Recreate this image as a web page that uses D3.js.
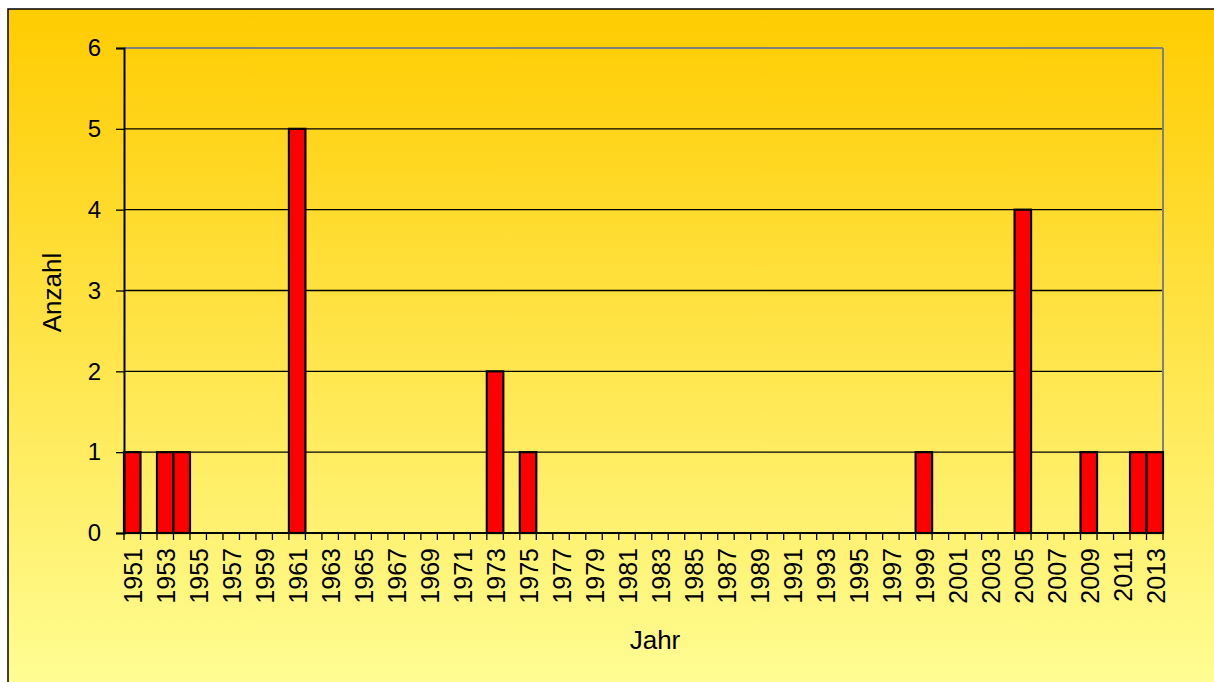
<!DOCTYPE html>
<html>
<head>
<meta charset="utf-8">
<script src="https://cdn.jsdelivr.net/npm/d3@7"></script>
<style>
  html, body { margin: 0; padding: 0; background: #fff; }
  svg { display: block; }
  text { font-family: "Liberation Sans", Arial, sans-serif; fill: #000; }
</style>
</head>
<body>
<svg id="chart" width="1214" height="682"></svg>
<script>
// ---- data ----
const years = d3.range(1951, 2014).map(String);
const eventYears = ["1951", "1953", "1954", "1961", "1973", "1975", "1999", "2005", "2009", "2012", "2013"];
const eventCounts = [1, 1, 1, 5, 2, 1, 1, 4, 1, 1, 1];
const yTicks = [0, 1, 2, 3, 4, 5, 6];
const xLabelYears = years.filter((d, i) => i % 2 === 0);
const yTitle = "Anzahl";
const xTitle = "Jahr";

const countByYear = new Map(eventYears.map((y, i) => [y, eventCounts[i]]));
const values = years.map(y => ({ year: y, value: countByYear.get(y) || 0 }));

// ---- layout ----
const W = 1214, H = 682;
const plotL = 124, plotR = 1163, plotT = 48, plotB = 533;

const svg = d3.select("#chart");

const defs = svg.append("defs");
const grad = defs.append("linearGradient").attr("id", "bg")
  .attr("x1", 0).attr("y1", 0).attr("x2", 0).attr("y2", 1);
grad.append("stop").attr("offset", "0%").attr("stop-color", "#FFCC00");
grad.append("stop").attr("offset", "100%").attr("stop-color", "#FFFF99");

svg.append("rect").attr("x", 0).attr("y", 0).attr("width", W).attr("height", H).attr("fill", "#fff");
svg.append("rect").attr("x", 8).attr("y", 9).attr("width", W + 20).attr("height", H + 20)
  .attr("fill", "url(#bg)").attr("stroke", "#000").attr("stroke-width", 1.5);

const x = d3.scaleBand().domain(years).range([plotL, plotR]).padding(0);
const y = d3.scaleLinear().domain([0, 6]).range([plotB, plotT]);

// gridlines
svg.append("g").selectAll("line").data(yTicks.filter(t => t > 0 && t < 6)).join("line")
  .attr("x1", plotL).attr("x2", plotR)
  .attr("y1", d => y(d)).attr("y2", d => y(d))
  .attr("stroke", "#000").attr("stroke-width", 1.3);

// plot border (top & right gray)
svg.append("line").attr("x1", plotL).attr("x2", plotR).attr("y1", y(6)).attr("y2", y(6))
  .attr("stroke", "#808080").attr("stroke-width", 2);
svg.append("line").attr("x1", plotR).attr("x2", plotR).attr("y1", y(6)).attr("y2", y(0))
  .attr("stroke", "#808080").attr("stroke-width", 2);

// bars
svg.append("g").selectAll("rect").data(values.filter(d => d.value > 0)).join("rect")
  .attr("x", d => x(d.year))
  .attr("width", x.bandwidth())
  .attr("y", d => y(d.value))
  .attr("height", d => y(0) - y(d.value))
  .attr("fill", "#FF0000")
  .attr("stroke", "#000")
  .attr("stroke-width", 2.2);

// y axis
const yAxis = d3.axisLeft(y).tickValues(yTicks).tickFormat(d3.format("d")).tickSize(8).tickPadding(15);
const gy = svg.append("g").attr("transform", `translate(${plotL},0)`).call(yAxis);
gy.select(".domain").attr("stroke", "#000").attr("stroke-width", 2);
gy.selectAll(".tick line").attr("stroke", "#000").attr("stroke-width", 1.3);
gy.selectAll(".tick text").style("font-size", "24px").attr("font-family", "Liberation Sans, Arial, sans-serif");

// x axis line
svg.append("line").attr("x1", plotL - 1).attr("x2", plotR).attr("y1", plotB).attr("y2", plotB)
  .attr("stroke", "#000").attr("stroke-width", 2);

// x boundary ticks
const boundaries = years.map(yr => x(yr)).concat([x(years[years.length - 1]) + x.bandwidth()]);
svg.append("g").selectAll("line").data(boundaries).join("line")
  .attr("x1", d => d).attr("x2", d => d)
  .attr("y1", plotB).attr("y2", plotB + 7)
  .attr("stroke", "#000").attr("stroke-width", 1.3);

// x labels
svg.append("g").selectAll("text").data(xLabelYears).join("text")
  .attr("transform", d => `translate(${x(d) + x.bandwidth() / 2 + 1},${plotB + 15}) rotate(-90)`)
  .attr("text-anchor", "end")
  .attr("dy", "0.36em")
  .style("font-size", "25px")
  .text(d => d);

// titles
svg.append("text")
  .attr("transform", `translate(61,${(plotT + plotB) / 2 + 2}) rotate(-90)`)
  .attr("text-anchor", "middle")
  .style("font-size", "26px")
  .text(yTitle);

svg.append("text")
  .attr("x", 655).attr("y", 649)
  .attr("text-anchor", "middle")
  .style("font-size", "26px")
  .text(xTitle);
</script>
</body>
</html>
